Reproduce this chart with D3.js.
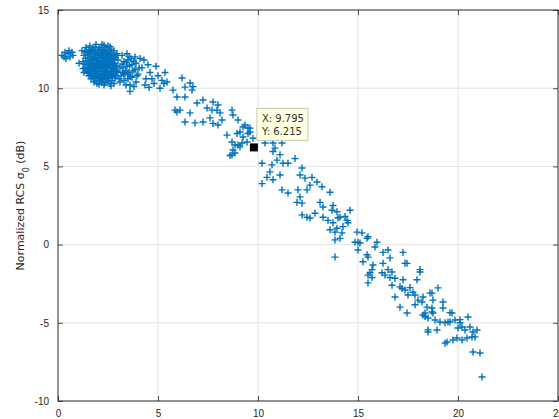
<!DOCTYPE html>
<html>
<head>
<meta charset="utf-8">
<script src="https://cdn.jsdelivr.net/npm/d3@7"></script>
<style>
  body { margin: 0; background: #fff; }
  svg { display: block; font-family: "DejaVu Sans", sans-serif; }
</style>
</head>
<body>
<div id="chart"></div>
<script>
// axis ticks
var xTicks = [0, 5, 10, 15, 20, 25];
var yTicks = [-10, -5, 0, 5, 10, 15];

// data tip shown on the figure
var tipPoint = [9.795, 6.215];

// dense group near the origin
var nearPoints = [
  [0.2,12.1],[0.35,12.3],[0.5,12.2],[0.6,12.0],[0.7,12.3],[0.4,11.9],[0.75,12.1],[0.3,12.0],[0.55,12.4],[1.05,11.6],
  [1.2,12.4],[1.3,12.1],[1.25,11.7],[1.35,11.3],[1.3,11.0],[1.4,12.6],[1.45,12.3],[1.5,11.9],[1.45,11.5],[1.5,11.1],
  [1.55,10.8],[1.6,12.7],[1.6,12.2],[1.65,11.8],[1.6,11.4],[1.7,11.0],[1.65,10.6],[1.75,12.5],[1.8,12.0],[1.75,11.6],
  [1.8,11.2],[1.85,10.8],[1.8,10.4],[1.9,12.8],[1.95,12.3],[1.9,11.9],[2.0,11.5],[1.95,11.1],[2.0,10.7],[1.95,10.3],
  [2.05,12.6],[2.1,12.1],[2.05,11.7],[2.1,11.3],[2.15,10.9],[2.1,10.5],[2.2,12.8],[2.25,12.4],[2.2,12.0],[2.25,11.6],
  [2.3,11.2],[2.25,10.8],[2.3,10.2],[2.35,12.6],[2.4,12.2],[2.35,11.8],[2.4,11.4],[2.45,11.0],[2.4,10.6],[2.5,12.7],
  [2.55,12.3],[2.5,11.9],[2.55,11.5],[2.6,11.1],[2.55,10.7],[2.6,10.3],[2.65,12.5],[2.7,12.1],[2.65,11.7],[2.7,11.3],
  [2.75,10.9],[2.7,10.5],[2.8,12.4],[2.85,12.0],[2.8,11.6],[2.85,11.2],[2.9,10.8],[2.95,12.2],[3.0,11.8],[2.95,11.4],
  [3.0,11.0],[3.05,10.6],[1.55,12.45],[1.7,12.35],[1.85,12.6],[2.0,12.45],[2.15,12.5],[2.3,12.75],[2.45,12.45],[2.6,12.65],
  [1.4,11.75],[1.55,11.6],[1.7,11.5],[1.85,11.4],[2.0,11.25],[2.15,11.55],[2.3,11.45],[2.45,11.65],[2.6,11.35],[2.75,11.5],
  [1.5,10.95],[1.65,10.85],[1.8,10.65],[1.95,10.9],[2.1,10.75],[2.25,10.55],[2.4,10.85],[2.55,10.95],[2.7,10.75],[2.85,10.65],
  [1.9,10.5],[2.05,10.25],[2.2,10.4],[2.35,10.35],[2.5,10.45],[2.65,10.15],[2.8,10.3],[1.35,12.35],[1.7,12.05],[2.35,12.0],
  [2.9,12.1],[3.1,11.3],[3.1,10.4],[1.25,11.25],[1.3,11.55],
  [1.38,11.92],[1.52,11.28],[1.62,12.02],[1.73,11.22],[1.78,11.85],[1.88,12.17],[1.92,11.62],[2.03,11.92],[2.08,11.05],[2.12,12.27],
  [2.18,11.78],[2.22,11.18],[2.28,12.15],[2.32,11.65],[2.38,11.05],[2.42,12.03],[2.48,11.35],[2.52,12.15],[2.58,11.72],[2.62,11.97],
  [2.68,11.08],[2.72,11.88],[2.78,11.22],[2.82,11.82],[2.88,11.42],[1.58,11.18],[1.68,11.68],[1.83,11.02],[1.97,11.78],[2.13,11.42],
  [2.27,11.92],[2.43,11.28],[2.57,11.88],[2.73,11.62],[2.87,11.95],[1.48,12.12],[1.67,12.42],[1.82,12.32],[2.02,12.18],[2.17,12.05],
  [2.33,12.33],[2.47,12.18],[2.63,12.28],[2.78,12.15],[1.72,10.78],[1.88,10.95],[2.03,10.62],[2.18,10.68],[2.33,10.92],[2.48,10.62],
  [2.63,10.82],[2.78,10.95],[2.93,11.08],[1.62,11.02],[1.42,11.12],[2.22,11.38],[2.07,11.52],[1.93,11.32],[1.78,11.42],[2.52,11.52],
  [3.2,12.1],[3.3,11.7],[3.25,11.3],[3.35,10.9],[3.3,10.5],[3.45,12.2],[3.5,11.8],[3.45,11.4],[3.55,11.0],[3.5,10.6],
  [3.6,10.2],[3.65,11.9],[3.7,11.5],[3.75,11.1],[3.7,10.7],[3.6,9.8],[3.85,12.0],[3.9,11.6],[3.85,11.2],[3.95,10.8],
  [3.9,10.4],[4.05,11.3],[4.0,10.9],[3.4,10.2],[3.8,10.1],[3.15,10.8],[4.1,11.9],
  [3.2,11.55],[3.38,11.12],[3.42,11.65],[3.58,11.45],[3.62,10.75],[3.28,10.95],[3.55,12.02],[3.78,11.72],[3.22,11.02],[3.48,10.88],
  [4.3,11.8],[4.5,11.5],[4.9,11.4],[5.35,11.0],[4.4,10.6],[4.8,10.3],[5.1,10.0],[4.6,11.0],[5.0,10.8],[4.35,10.2],
  [4.7,10.6],[5.2,10.5],[4.55,10.05],[5.3,10.3],[4.2,11.3]
];

// middle stretch, 5.5 to 10
var midPoints = [
  [5.45,10.4],[5.75,9.88],[6.2,10.65],[6.6,10.33],[6.35,10.07],[6.7,9.88],[5.95,9.44],[6.35,9.44],[5.95,8.48],[6.1,8.6],
  [6.6,8.42],[6.95,9.05],[7.25,9.25],[7.75,9.12],[7.45,8.73],[7.7,8.6],[8.1,8.42],[8.0,8.93],[8.7,8.6],[8.75,8.29],
  [7.6,8.1],[7.25,7.84],[6.85,7.78],[6.35,7.84],[8.2,7.97],[9.0,7.97],[8.45,7.0],[8.7,6.56],[8.85,6.37],[9.25,7.52],
  [9.5,7.46],[9.1,7.2],[9.25,6.88],[9.45,6.56],[9.0,6.37],[8.75,6.05],[8.7,5.73],[8.85,5.86],[9.6,7.2],[6.75,10.1],
  [5.85,8.6],[7.95,8.6],[7.75,7.75],[8.0,7.65],[8.95,7.1],[9.35,7.65],[9.6,7.45],[9.5,7.1],[9.2,6.5],[9.75,6.8],
  [8.6,5.7],[9.1,6.25]
];

// falling stretch, 10 to 15
var fallPoints = [
  [10.35,6.5],[10.75,6.5],[11.2,6.5],[10.85,6.17],[10.75,5.95],[11.1,5.75],[10.95,5.4],[10.7,5.1],[10.2,5.2],[11.5,5.2],
  [11.85,5.5],[11.25,5.2],[10.6,4.65],[10.45,4.3],[10.75,4.15],[10.2,3.9],[11.1,4.45],[12.2,4.9],[12.1,4.45],[12.35,4.25],
  [12.7,4.3],[12.95,4.0],[12.6,3.8],[12.45,3.5],[12.0,3.5],[11.2,3.5],[11.5,3.3],[12.1,3.05],[11.95,2.7],[12.2,2.65],
  [13.2,3.7],[13.6,3.35],[13.1,2.7],[13.25,2.4],[12.85,2.0],[12.45,1.75],[12.2,1.9],[13.7,2.2],[13.95,2.1],[13.5,1.55],
  [13.75,1.4],[14.1,1.75],[14.45,1.55],[14.6,2.2],[13.95,1.05],[13.6,0.95],[14.2,0.75],[14.1,0.4],[14.95,0.8],[14.85,0.15],
  [13.85,-0.8],[13.75,2.5],[12.6,1.7],[13.25,1.75],[14.35,1.8],[14.5,1.4],[13.85,0.8],[14.25,1.15],[13.85,0.3],[14.0,1.7]
];

// tail, 15 to 21.5
var tailPoints = [
  [15.2,0.75],[15.0,0.15],[15.5,0.5],[15.95,0.15],[15.0,-0.35],[15.45,-0.65],[15.25,-1.1],[15.75,-1.3],[15.5,-1.95],[15.7,-1.6],
  [16.25,-1.2],[16.5,-0.35],[16.6,-0.85],[16.35,-1.95],[16.2,-1.8],[16.7,-1.75],[16.85,-2.15],[17.25,-0.5],[17.45,-1.2],[17.25,-2.25],
  [17.1,-2.7],[17.35,-2.9],[16.85,-3.35],[17.1,-4.0],[17.6,-2.75],[17.95,-2.25],[18.1,-1.6],[17.75,-3.05],[18.0,-3.55],[18.25,-3.35],
  [17.85,-3.85],[18.45,-4.0],[18.25,-4.5],[15.5,-2.45],[15.1,0.1],[15.5,-0.8],[15.45,0.4],[15.85,-0.15],[15.6,-1.8],[15.7,-2.1],
  [16.25,-0.5],[16.6,-2.1],[16.7,-2.6],[16.5,-1.6],[17.35,-1.2],[17.2,-2.8],[18.1,-1.75],[17.5,-3.22],[17.85,-3.22],[18.2,-3.67],
  [18.7,-3.1],[19.0,-2.77],[18.7,-4.05],[18.35,-4.37],[18.75,-4.37],[18.5,-4.69],[18.85,-4.82],[19.25,-3.67],[19.25,-4.05],[19.7,-4.37],
  [19.5,-4.95],[19.1,-4.95],[19.35,-5.0],[19.6,-4.95],[19.85,-4.82],[20.1,-5.0],[20.0,-5.33],[20.2,-5.27],[20.35,-5.46],[20.5,-4.63],
  [20.6,-5.27],[20.75,-5.59],[20.95,-5.46],[20.7,-5.91],[20.45,-5.97],[20.2,-6.1],[19.95,-5.97],[19.75,-6.1],[19.45,-6.23],[18.5,-5.59],
  [18.95,-5.46],[19.35,-6.3],[20.75,-6.87],[21.1,-6.93],[21.2,-8.47],[17.45,-4.37],[18.6,-3.1],[18.75,-3.55],[18.7,-4.3],[18.35,-4.6],
  [20.1,-4.8],[20.85,-5.9],[19.6,-4.35],[18.5,-5.45]
];

var allPoints = nearPoints.concat(midPoints, fallPoints, tailPoints);

var W = 559, H = 419;
var margin = {top: 10, right: 1, bottom: 18, left: 58};
var width = 500, height = 391;

var svg = d3.select("#chart").append("svg")
    .attr("width", W)
    .attr("height", H);

var g = svg.append("g")
    .attr("transform", "translate(" + margin.left + "," + margin.top + ")");

var x = d3.scaleLinear().domain([0, 25]).range([0, width]);
var y = d3.scaleLinear().domain([-10, 15]).range([height, 0]);

// grid
g.append("g").selectAll("line").data(xTicks.slice(1, -1)).enter().append("line")
    .attr("x1", function(d) { return x(d); }).attr("x2", function(d) { return x(d); })
    .attr("y1", 0).attr("y2", height)
    .attr("stroke", "#e3e3e3").attr("stroke-width", 1);
g.append("g").selectAll("line").data(yTicks.slice(1, -1)).enter().append("line")
    .attr("y1", function(d) { return y(d); }).attr("y2", function(d) { return y(d); })
    .attr("x1", 0).attr("x2", width)
    .attr("stroke", "#e3e3e3").attr("stroke-width", 1);

// points, drawn as "+"
var s = 3.5;
g.append("g").selectAll("path").data(allPoints).enter().append("path")
    .attr("d", function(d) {
      var px = x(d[0]), py = y(d[1]);
      return "M" + (px - s) + "," + py + "H" + (px + s) + "M" + px + "," + (py - s) + "V" + (py + s);
    })
    .attr("fill", "none")
    .attr("stroke", "#0072BD")
    .attr("stroke-width", 1.4);

// axes with inward ticks
function styleAxis(sel) {
  sel.select(".domain").remove();
  sel.selectAll(".tick line").attr("stroke", "#262626").attr("stroke-width", 0.8);
  sel.selectAll(".tick text").attr("fill", "#262626").style("font-size", "10px");
}

g.append("g")
    .attr("transform", "translate(0," + height + ")")
    .call(d3.axisBottom(x).tickValues(xTicks).tickSizeInner(-5).tickSizeOuter(0).tickPadding(9))
    .call(styleAxis);
g.append("g")
    .call(d3.axisTop(x).tickValues(xTicks).tickSizeInner(-5).tickSizeOuter(0).tickFormat(""))
    .call(styleAxis);
g.append("g")
    .call(d3.axisLeft(y).tickValues(yTicks).tickSizeInner(-5).tickSizeOuter(0).tickPadding(9)
      .tickFormat(function(d) { return String(d); }))
    .call(styleAxis);
g.append("g")
    .attr("transform", "translate(" + width + ",0)")
    .call(d3.axisRight(y).tickValues(yTicks).tickSizeInner(-5).tickSizeOuter(0).tickFormat(""))
    .call(styleAxis);

// box
g.append("rect")
    .attr("x", 0).attr("y", 0)
    .attr("width", width).attr("height", height)
    .attr("fill", "none")
    .attr("stroke", "#262626").attr("stroke-width", 1);

// y label
var yl = svg.append("text")
    .attr("transform", "translate(24," + (margin.top + height / 2) + ") rotate(-90)")
    .attr("text-anchor", "middle")
    .attr("fill", "#262626")
    .style("font-size", "11px");
yl.append("tspan").text("Normalized RCS \u03c3");
yl.append("tspan").attr("baseline-shift", "sub").style("font-size", "8px").text("0");
yl.append("tspan").text(" (dB)");

// data tip
var tx = x(tipPoint[0]), ty = y(tipPoint[1]);
g.append("rect")
    .attr("x", tx - 4).attr("y", ty - 4)
    .attr("width", 8).attr("height", 8)
    .attr("fill", "#000");
var tip = g.append("g").attr("transform", "translate(" + (tx + 3) + "," + (ty - 39) + ")");
tip.append("rect")
    .attr("width", 51).attr("height", 32)
    .attr("fill", "#ffffe1")
    .attr("stroke", "#c8c8b4").attr("stroke-width", 1);
tip.append("text").attr("x", 5).attr("y", 14)
    .attr("fill", "#333").style("font-size", "10px").text("X: " + tipPoint[0]);
tip.append("text").attr("x", 5).attr("y", 27)
    .attr("fill", "#333").style("font-size", "10px").text("Y: " + tipPoint[1]);
</script>
</body>
</html>
